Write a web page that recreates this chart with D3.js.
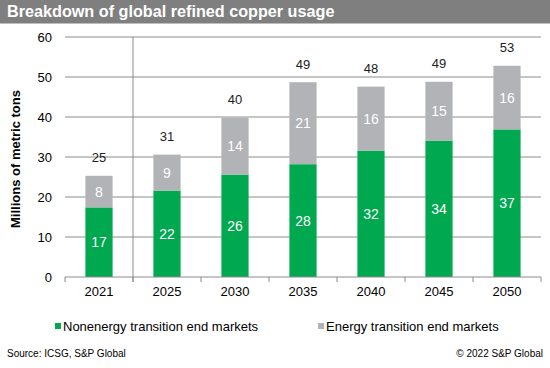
<!DOCTYPE html>
<html>
<head>
<meta charset="utf-8">
<script src="https://cdn.jsdelivr.net/npm/d3@7"></script>
<style>
  html, body { margin: 0; padding: 0; background: #fff; }
  svg { display: block; font-family: "Liberation Sans", Arial, sans-serif; }
</style>
</head>
<body>
<svg id="chart" width="550" height="368"></svg>
<script>
const years = ["2021", "2025", "2030", "2035", "2040", "2045", "2050"];
const nonEnergy = [17.4, 21.6, 25.6, 28.2, 31.6, 34.1, 36.9];
const energy = [7.9, 9.0, 14.2, 20.5, 16.0, 14.7, 15.9];
const yTicks = [0, 10, 20, 30, 40, 50, 60];
const seriesNames = ["Nonenergy transition end markets", "Energy transition end markets"];
const seriesColors = ["#00a84f", "#b2b3b6"];

(function () {
const svg = d3.select("#chart");
const W = 550, H = 368;

// Title bar
svg.append("rect").attr("x", 0).attr("y", 0).attr("width", W).attr("height", 23.5).attr("fill", "#7f7f7f");
svg.append("text").attr("x", 7).attr("y", 17).attr("fill", "#fff")
  .attr("font-weight", "bold").attr("font-size", 16.2).text("Breakdown of global refined copper usage");

const pL = 65, pR = 541, pT = 37, pB = 277;
const x = d3.scaleBand().domain(years).range([pL, pR]).paddingInner(0.6).paddingOuter(0.3);
const xb = d3.scaleBand().domain(years).range([pL, pR]);
const y = d3.scaleLinear().domain([0, 60]).range([pB, pT]);

// gridlines
svg.append("g").selectAll("line").data(yTicks.filter(d => d > 0)).join("line")
  .attr("x1", pL).attr("x2", pR).attr("y1", d => y(d)).attr("y2", d => y(d))
  .attr("stroke", "#8c8c8c").attr("stroke-width", 1);

// y tick labels
svg.append("g").selectAll("text").data(yTicks).join("text")
  .attr("x", 52).attr("y", d => y(d)).attr("dy", "0.35em").attr("text-anchor", "end")
  .attr("font-size", 13).attr("fill", "#000").text(d => d);

// y axis title
svg.append("text").attr("transform", `translate(20,${(pT + pB) / 2 + 2}) rotate(-90)`)
  .attr("text-anchor", "middle").attr("font-weight", "bold").attr("font-size", 13)
  .attr("fill", "#000").text("Millions of metric tons");

// separator between actual and forecast
svg.append("line").attr("x1", xb("2025")).attr("x2", xb("2025"))
  .attr("y1", pT).attr("y2", pB + 5).attr("stroke", "#8c8c8c").attr("stroke-width", 1);

// bars
const stackData = years.map((yr, i) => ({ year: yr, a: nonEnergy[i], b: energy[i] }));
const stacked = d3.stack().keys(["a", "b"])(stackData);
svg.append("g").selectAll("g").data(stacked).join("g")
  .attr("fill", (d, i) => seriesColors[i])
  .selectAll("rect").data(d => d).join("rect")
  .attr("x", d => x(d.data.year)).attr("width", x.bandwidth())
  .attr("y", d => y(d[1])).attr("height", d => y(d[0]) - y(d[1]));

// segment labels
stacked.forEach((s) => {
  svg.append("g").selectAll("text").data(s).join("text")
    .attr("x", d => x(d.data.year) + x.bandwidth() / 2)
    .attr("y", d => (y(d[0]) + y(d[1])) / 2).attr("dy", "0.36em")
    .attr("text-anchor", "middle").attr("font-size", 14).attr("fill", "#fff")
    .text(d => Math.round(d[1] - d[0]));
});

// totals
svg.append("g").selectAll("text").data(stackData).join("text")
  .attr("x", d => x(d.year) + x.bandwidth() / 2)
  .attr("y", d => y(d.a + d.b) - 18).attr("dy", "0.36em")
  .attr("text-anchor", "middle").attr("font-size", 13).attr("fill", "#222")
  .text(d => Math.round(d.a + d.b));

// x axis
const xAxis = svg.append("g").attr("transform", `translate(0,${pB})`);
xAxis.append("line").attr("x1", pL).attr("x2", pR).attr("stroke", "#8c8c8c");
xAxis.selectAll("line.tick").data(years.concat(["end"])).join("line").attr("class", "tick")
  .attr("x1", (d, i) => pL + i * xb.bandwidth()).attr("x2", (d, i) => pL + i * xb.bandwidth())
  .attr("y1", 0).attr("y2", 5).attr("stroke", "#8c8c8c");
xAxis.selectAll("text").data(years).join("text")
  .attr("x", d => xb(d) + xb.bandwidth() / 2).attr("y", 14).attr("dy", "0.36em")
  .attr("text-anchor", "middle").attr("font-size", 13).attr("fill", "#000").text(d => d);

// legend
const legendX = [55, 318];
seriesNames.forEach((n, i) => {
  svg.append("rect").attr("x", legendX[i]).attr("y", 323).attr("width", 6).attr("height", 6).attr("fill", seriesColors[i]);
  svg.append("text").attr("x", legendX[i] + 8).attr("y", 326).attr("dy", "0.36em")
    .attr("font-size", 13).attr("fill", "#000").text(n);
});

// footer
svg.append("text").attr("x", 7).attr("y", 353).attr("dy", "0.36em").attr("font-size", 10).attr("fill", "#000").text("Source: ICSG, S&P Global");
svg.append("text").attr("x", 543).attr("y", 353).attr("dy", "0.36em").attr("text-anchor", "end").attr("font-size", 10).attr("fill", "#000").text("© 2022 S&P Global");
})();
</script>
</body>
</html>
